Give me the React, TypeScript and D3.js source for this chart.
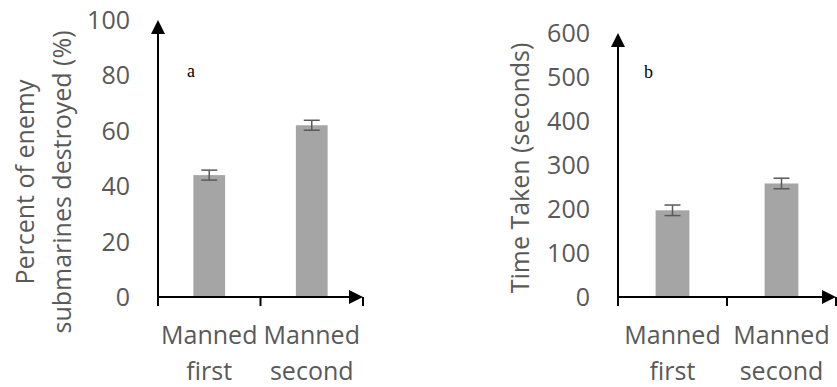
import { useEffect } from "react";
import * as d3 from "d3";

const categories = ["Manned first", "Manned second"];
const destroyedValues = [44, 62];
const destroyedErrors = [1.8, 1.8];
const destroyedTicks = [0, 20, 40, 60, 80, 100];
const timeValues = [197, 258];
const timeErrors = [12, 12];
const timeTicks = [0, 100, 200, 300, 400, 500, 600];

const FONT = "'Open Sans', sans-serif";
const TEXT = "#595959";
const FS = 25;

type PanelProps = {
  x0: number; // y axis position
  bandW: number;
  yTop: number; // pixel of max tick
  yBottom: number;
  values: number[];
  errors: number[];
  ticks: number[];
  letter: string;
  letterX: number;
  letterY: number;
  titleLines: string[];
  titleX: number;
  titleY: number;
};

const Panel = (p: PanelProps) => {
  const maxV = p.ticks[p.ticks.length - 1];
  const y = d3.scaleLinear().domain([0, maxV]).range([p.yBottom, p.yTop]);
  const x = d3
    .scaleBand()
    .domain(categories)
    .range([p.x0, p.x0 + p.bandW * categories.length])
    .padding(0);
  const barW = x.bandwidth() * 0.31;
  const xEnd = p.x0 + p.bandW * categories.length;
  const axisY = y(0);
  const arrowTop = y(maxV);

  return (
    <g>
      {/* bars */}
      {categories.map((c, i) => {
        const cx = (x(c) as number) + x.bandwidth() / 2;
        return (
          <g key={c}>
            <rect x={cx - barW / 2} y={y(p.values[i])} width={barW} height={axisY - y(p.values[i])} fill="#a5a5a5" />
            <g stroke={TEXT} strokeWidth={1.5}>
              <line x1={cx} x2={cx} y1={y(p.values[i] + p.errors[i])} y2={y(p.values[i] - p.errors[i])} />
              <line x1={cx - 8} x2={cx + 8} y1={y(p.values[i] + p.errors[i])} y2={y(p.values[i] + p.errors[i])} />
              <line x1={cx - 8} x2={cx + 8} y1={y(p.values[i] - p.errors[i])} y2={y(p.values[i] - p.errors[i])} />
            </g>
          </g>
        );
      })}
      {/* axes */}
      <line x1={p.x0} x2={p.x0} y1={axisY + 1} y2={arrowTop + 10} stroke="#000" strokeWidth={2} />
      <path d={`M${p.x0 - 7},${arrowTop + 14}L${p.x0},${arrowTop}L${p.x0 + 7},${arrowTop + 14}Z`} fill="#000" />
      <line x1={p.x0 - 1} x2={xEnd - 10} y1={axisY} y2={axisY} stroke="#000" strokeWidth={2} />
      <path d={`M${xEnd - 14},${axisY - 7}L${xEnd},${axisY}L${xEnd - 14},${axisY + 7}Z`} fill="#000" />
      {d3.range(categories.length + 1).map((i) => (
        <line key={i} x1={p.x0 + i * p.bandW} x2={p.x0 + i * p.bandW} y1={axisY} y2={axisY + 9} stroke="#000" strokeWidth={2} />
      ))}
      {/* y tick labels */}
      {p.ticks.map((t) => (
        <text key={t} x={p.x0 - 28} y={y(t)} dy="0.36em" textAnchor="end" fontFamily={FONT} fontSize={FS} fill={TEXT}>
          {t}
        </text>
      ))}
      {/* x labels */}
      {categories.map((c) => {
        const cx = (x(c) as number) + x.bandwidth() / 2;
        const [a, b] = c.split(" ");
        return (
          <text key={c} textAnchor="middle" fontFamily={FONT} fontSize={FS} fill={TEXT}>
            <tspan x={cx} y={axisY + 47}>{a}</tspan>
            <tspan x={cx} y={axisY + 83}>{b}</tspan>
          </text>
        );
      })}
      {/* axis title */}
      <text transform={`translate(${p.titleX},${p.titleY}) rotate(-90)`} textAnchor="middle" fontFamily={FONT} fontSize={FS} fill={TEXT}>
        {p.titleLines.map((l, i) => (
          <tspan key={i} x={0} y={i * 37 - ((p.titleLines.length - 1) * 37) / 2} dy="0.35em">
            {l}
          </tspan>
        ))}
      </text>
      <text x={p.letterX} y={p.letterY} fontFamily="'Liberation Serif', serif" fontSize={18} fill="#000">
        {p.letter}
      </text>
    </g>
  );
};

const App = () => {
  useEffect(() => {
    document.body.style.margin = "0";
  }, []);
  return (
    <svg width={837} height={387} style={{ display: "block", background: "#fff" }}>
      <Panel
        x0={158}
        bandW={102.5}
        yTop={20}
        yBottom={297}
        values={destroyedValues}
        errors={destroyedErrors}
        ticks={destroyedTicks}
        letter="a"
        letterX={187}
        letterY={77}
        titleLines={["Percent of enemy", "submarines destroyed (%)"]}
        titleX={44}
        titleY={182}
      />
      <Panel
        x0={618}
        bandW={109}
        yTop={33}
        yBottom={297}
        values={timeValues}
        errors={timeErrors}
        ticks={timeTicks}
        letter="b"
        letterX={644}
        letterY={78}
        titleLines={["Time Taken (seconds)"]}
        titleX={520}
        titleY={168}
      />
    </svg>
  );
};

export default App;
